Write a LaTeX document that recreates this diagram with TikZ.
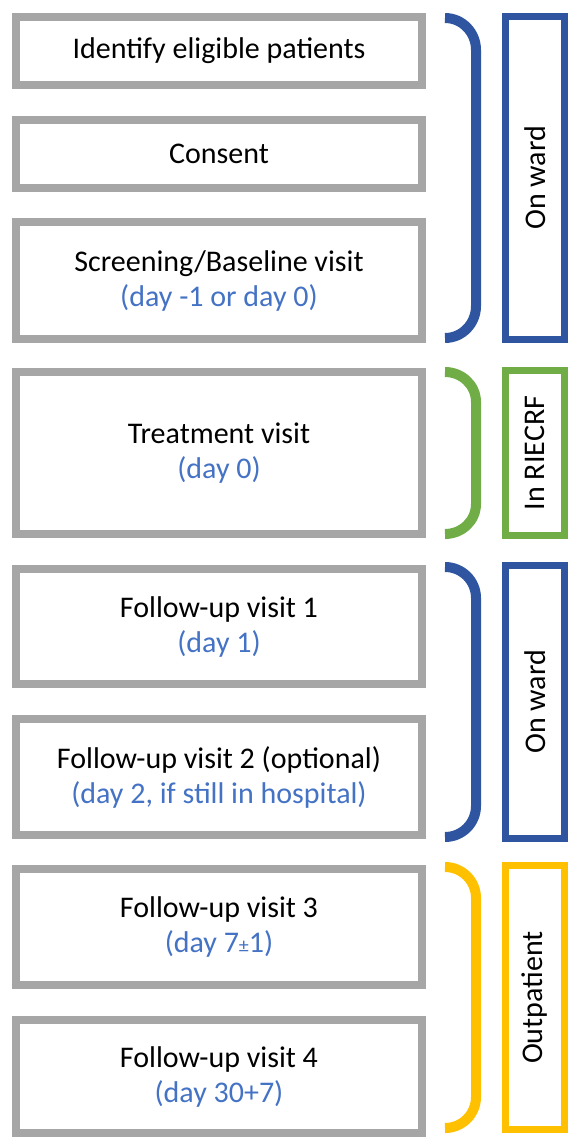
\documentclass[tikz,border=0pt]{standalone}
\usepackage{fontspec}
\setmainfont{Carlito}
\definecolor{boxgray}{HTML}{A6A6A6}
\definecolor{wardblue}{HTML}{2F55A0}
\definecolor{crfgreen}{HTML}{70AD47}
\definecolor{outyellow}{HTML}{FFC000}
\definecolor{daytext}{HTML}{4472C4}
\begin{document}
\begin{tikzpicture}[x=1pt,y=-1pt,
  stepbox/.style={draw=boxgray, line width=8pt, fill=white, inner sep=0pt,
    minimum width=406pt, align=center, font=\fontsize{30}{35}\selectfont},
  labelbox/.style={draw=#1, line width=7pt, inner sep=0pt, minimum width=59pt},
  labeltext/.style={rotate=90, font=\fontsize{30}{35}\selectfont, inner sep=0pt},
  bracket/.style={draw=#1, line width=10pt, line cap=butt},
  day/.style={text=daytext}]
\useasboundingbox (0,0) rectangle (573,1137);

% left step boxes
\node[stepbox, minimum height=68pt]  (b1) at (219,51)    {Identify eligible patients};
\node[stepbox, minimum height=68pt]  (b2) at (219,154)   {Consent};
\node[stepbox, minimum height=117pt] (b3) at (219,280.5) {Screening/Baseline visit\\\textcolor{daytext}{(day -1 or day 0)}};
\node[stepbox, minimum height=162pt] (b4) at (219,453)   {Treatment visit\\\textcolor{daytext}{(day 0)}};
\node[stepbox, minimum height=115pt] (b5) at (219,626.5) {Follow-up visit 1\\\textcolor{daytext}{(day 1)}};
\node[stepbox, minimum height=116pt] (b6) at (219,777)   {Follow-up visit 2 (optional)\\\textcolor{daytext}{(day 2, if still in hospital)}};
\node[stepbox, minimum height=116pt] (b7) at (219,927)   {Follow-up visit 3\\\textcolor{daytext}{(day 7{\fontsize{20}{24}\selectfont ±}1)}};
\node[stepbox, minimum height=113pt] (b8) at (219,1076.5){Follow-up visit 4\\\textcolor{daytext}{(day 30+7)}};

% right label boxes
\node[labelbox=wardblue,  minimum height=323pt] (l1) at (535,178)    {};
\node[labelbox=crfgreen,  minimum height=165pt] (l2) at (535,453)    {};
\node[labelbox=wardblue,  minimum height=273pt] (l3) at (535,702)    {};
\node[labelbox=outyellow, minimum height=264pt] (l4) at (535,997.5)  {};
\node[labeltext] (t1) at (l1.center) {On ward};
\node[labeltext] (t2) at (l2.center) {In RIECRF};
\node[labeltext] (t3) at (l3.center) {On ward};
\node[labeltext] (t4) at (l4.center) {Outpatient};

% brackets
\draw[bracket=wardblue]  (445,18)  to[out=0,in=90] (476,50)  -- (476,306)  to[out=-90,in=0] (445,338);
\draw[bracket=crfgreen]  (445,372) to[out=0,in=90] (476,402) -- (476,504)  to[out=-90,in=0] (445,534);
\draw[bracket=wardblue]  (445,567) to[out=0,in=90] (476,598) -- (476,806)  to[out=-90,in=0] (445,837);
\draw[bracket=outyellow] (445,867) to[out=0,in=90] (476,898) -- (476,1097) to[out=-90,in=0] (445,1128);
\end{tikzpicture}
\end{document}
